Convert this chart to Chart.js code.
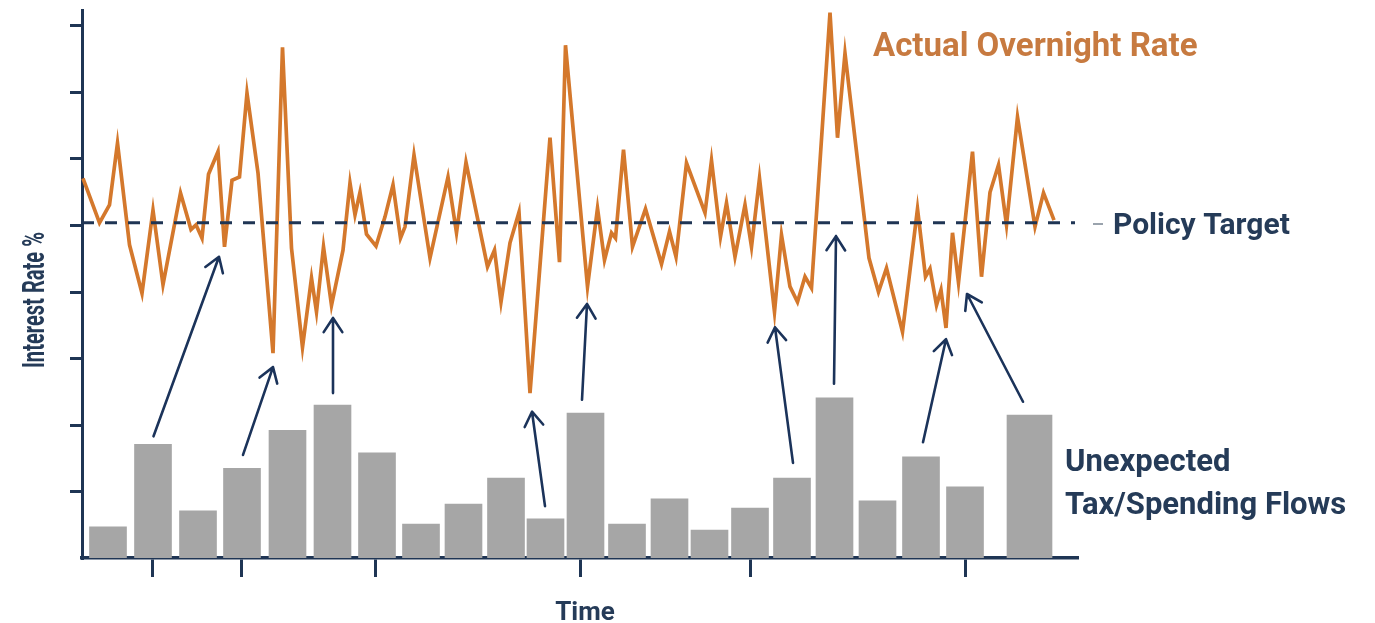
<!DOCTYPE html>
<html>
<head>
<meta charset="utf-8">
<script src="https://cdn.jsdelivr.net/npm/chart.js@4.4.1/dist/chart.umd.min.js"></script>
<style>
html,body{margin:0;padding:0;background:#ffffff;overflow:hidden}
#wrap{width:1375px;height:623px;position:relative}
canvas{display:block}
</style>
</head>
<body>
<div id="wrap"><canvas id="c" width="1375" height="623"></canvas></div>
<script>
// ---- Data (time in days, rate in %-units of the unlabeled axis) ----
const rateTimes = [0.2,3.5,5.5,7.1,9.5,12.0,14.2,16.2,19.7,21.8,22.8,24.0,25.3,27.2,28.5,30.0,31.5,33.0,35.2,38.2,
  40.1,41.9,44.1,45.9,46.9,48.3,49.9,52.2,53.6,54.6,55.6,56.9,58.8,60.6,62.2,63.7,64.6,66.4,69.6,73.2,
  74.9,76.8,81.1,82.5,83.8,85.6,87.4,89.6,93.6,95.5,96.7,101.1,103.1,104.5,105.9,106.7,108.3,110.1,112.7,115.9,
  117.5,118.8,120.9,124.6,125.9,127.7,128.9,130.6,132.6,133.9,135.5,138.5,139.9,141.6,143.1,144.6,145.9,149.6,151.1,152.6,
  157.4,159.3,160.9,164.1,167.1,168.7,169.6,170.9,171.8,172.8,174.1,175.3,178.1,179.9,181.6,183.3,184.9,187.1,190.6,192.3,194.4];
const rateValues = [5.71,5.04,5.31,6.24,4.71,3.98,5.23,4.11,5.49,4.94,5.01,4.81,5.77,6.11,4.68,5.68,5.73,6.99,5.79,3.08,
  7.68,4.66,3.17,4.21,3.70,4.68,3.80,4.63,5.64,5.16,5.50,4.87,4.69,5.13,5.61,4.81,4.98,6.06,4.51,5.73,
  4.89,5.95,4.38,4.63,3.85,4.74,5.20,2.48,6.32,4.45,7.71,4.08,5.26,4.48,4.89,4.81,6.14,4.68,5.25,4.42,
  4.91,4.53,5.94,5.19,5.98,4.83,5.34,4.53,5.31,4.68,5.71,3.70,4.86,4.08,3.85,4.23,4.06,8.20,6.32,7.59,
  4.51,4.00,4.36,3.40,5.25,4.23,4.35,3.80,4.03,3.46,4.89,4.14,6.11,4.23,5.50,5.91,5.01,6.63,4.98,5.49,5.08];

const flowTimes  = [5.2,14.2,23.2,32.0,41.1,50.1,59.0,67.8,76.3,84.8,92.7,100.7,109.0,117.5,125.5,133.6,142.0,150.5,159.1,167.8,176.6];
const flowValues = [0.47,1.71,0.71,1.35,1.92,2.30,1.58,0.51,0.81,1.20,0.59,2.18,0.51,0.89,0.42,0.75,1.20,2.41,0.86,1.52,1.07];
const lastFlowTime = [189.5];
const lastFlowValue = [2.15];

const policyTarget = 5.04;
const targetSpan = [0, 198.6];

const timeTicks = [14.0, 31.8, 58.6, 99.6, 133.6, 176.6];
const rateTicks = [1, 2, 3, 4, 5, 6, 7, 8];

// arrows: [time, value] from flow bar to the rate reaction
const arrowFrom = [[14.3,1.83],[32.2,1.55],[50.2,2.48],[92.6,0.78],[100.0,2.38],[142.2,1.43],[150.4,2.62],[168.2,1.74],[188.2,2.35]];
const arrowTo   = [[27.4,4.53],[38.2,2.87],[50.2,3.61],[90.0,2.20],[101.0,3.82],[138.6,3.47],[150.8,4.84],[172.8,3.29],[177.0,3.97]];

const labels = {
  rate: 'Actual Overnight Rate',
  target: 'Policy Target',
  flows1: 'Unexpected',
  flows2: 'Tax/Spending Flows',
  xTitle: 'Time',
  yTitle: 'Interest Rate %'
};

// ---- Styles ----
const NAVY = '#1f3554';
const ORANGE = '#d4782c';
const GRAY = '#a6a6a6';
const FONT = 'Roboto, "Open Sans", sans-serif';

const arrowsPlugin = {
  id: 'arrows',
  afterDatasetsDraw(chart) {
    const {ctx, scales: {x, y}} = chart;
    ctx.save();
    ctx.strokeStyle = '#1b335a';
    ctx.lineWidth = 2.6;
    ctx.lineCap = 'round';
    ctx.lineJoin = 'round';
    for (let i = 0; i < arrowFrom.length; i++) {
      const x1 = x.getPixelForValue(arrowFrom[i][0]), y1 = y.getPixelForValue(arrowFrom[i][1]);
      const x2 = x.getPixelForValue(arrowTo[i][0]), y2 = y.getPixelForValue(arrowTo[i][1]);
      const ang = Math.atan2(y2 - y1, x2 - x1);
      const L = 17, a = 0.58;
      ctx.beginPath();
      ctx.moveTo(x1, y1); ctx.lineTo(x2, y2);
      ctx.moveTo(x2 - L * Math.cos(ang - a), y2 - L * Math.sin(ang - a));
      ctx.lineTo(x2, y2);
      ctx.lineTo(x2 - L * Math.cos(ang + a), y2 - L * Math.sin(ang + a));
      ctx.stroke();
    }
    ctx.restore();
  }
};

const textPlugin = {
  id: 'texts',
  afterDraw(chart) {
    const {ctx} = chart;
    ctx.save();
    ctx.textBaseline = 'alphabetic';
    ctx.textAlign = 'left';
    ctx.fillStyle = '#c77a40';
    ctx.font = 'bold 33px ' + FONT;
    ctx.fillText(labels.rate, 873, 56);

    ctx.strokeStyle = '#9aa3ad';
    ctx.lineWidth = 2;
    ctx.beginPath(); ctx.moveTo(1093, 224); ctx.lineTo(1103, 224); ctx.stroke();

    ctx.fillStyle = '#253b58';
    ctx.font = 'bold 30px ' + FONT;
    ctx.fillText(labels.target, 1113, 234);

    ctx.font = 'bold 31px ' + FONT;
    ctx.fillText(labels.flows1, 1065, 471);
    ctx.fillText(labels.flows2, 1065, 514);

    ctx.font = 'bold 26px ' + FONT;
    ctx.textAlign = 'center';
    ctx.fillText(labels.xTitle, 585, 620);

    ctx.translate(44, 300);
    ctx.rotate(-Math.PI / 2);
    ctx.font = 'bold 31px ' + FONT;
    const w = ctx.measureText(labels.yTitle).width;
    ctx.scale(136 / w, 1);
    ctx.fillText(labels.yTitle, 0, 0);
    ctx.restore();
  }
};

function build() {
  new Chart(document.getElementById('c'), {
    type: 'line',
    data: {
      datasets: [
        {
          label: labels.target,
          data: targetSpan.map(t => ({x: t, y: policyTarget})),
          borderColor: NAVY,
          borderWidth: 3,
          borderDash: [12, 11],
          pointRadius: 0,
          order: 0
        },
        {
          label: labels.rate,
          data: rateTimes.map((t, i) => ({x: t, y: rateValues[i]})),
          borderColor: ORANGE,
          borderWidth: 3.7,
          tension: 0,
          pointRadius: 0,
          clip: false,
          order: 1
        },
        {
          type: 'bar',
          label: 'Unexpected Tax/Spending Flows',
          data: flowTimes.map((t, i) => ({x: t, y: flowValues[i]})),
          backgroundColor: GRAY,
          barThickness: 37,
          grouped: false,
          order: 2
        },
        {
          type: 'bar',
          label: 'Unexpected Tax/Spending Flows (latest)',
          data: lastFlowTime.map((t, i) => ({x: t, y: lastFlowValue[i]})),
          backgroundColor: GRAY,
          barThickness: 45,
          grouped: false,
          order: 2
        }
      ]
    },
    options: {
      responsive: false,
      animation: false,
      devicePixelRatio: 1,
      layout: {padding: {left: 0, right: 298, top: 10, bottom: 0}},
      plugins: {legend: {display: false}, tooltip: {enabled: false}},
      scales: {
        x: {
          type: 'linear',
          min: 0, max: 199,
          offset: false,
          afterBuildTicks: s => { s.ticks = timeTicks.map(v => ({value: v})); },
          afterFit: s => { s.height = 65; },
          ticks: {display: false},
          grid: {display: true, drawOnChartArea: false, drawTicks: true, tickLength: 19, color: NAVY, lineWidth: 3, offset: false},
          border: {display: true, color: NAVY, width: 3.5}
        },
        y: {
          type: 'linear',
          min: 0, max: 548 / 66.5,
          afterBuildTicks: s => { s.ticks = rateTicks.map(v => ({value: v})); },
          afterFit: s => { s.width = 82; },
          ticks: {display: false},
          grid: {display: true, drawOnChartArea: false, drawTicks: true, tickLength: 12, color: NAVY, lineWidth: 3},
          border: {display: true, color: NAVY, width: 3}
        }
      }
    },
    plugins: [arrowsPlugin, textPlugin]
  });
}
if (document.fonts && document.fonts.load) {
  Promise.all([document.fonts.load('bold 30px Roboto')]).then(build, build);
} else { build(); }
</script>
</body>
</html>
